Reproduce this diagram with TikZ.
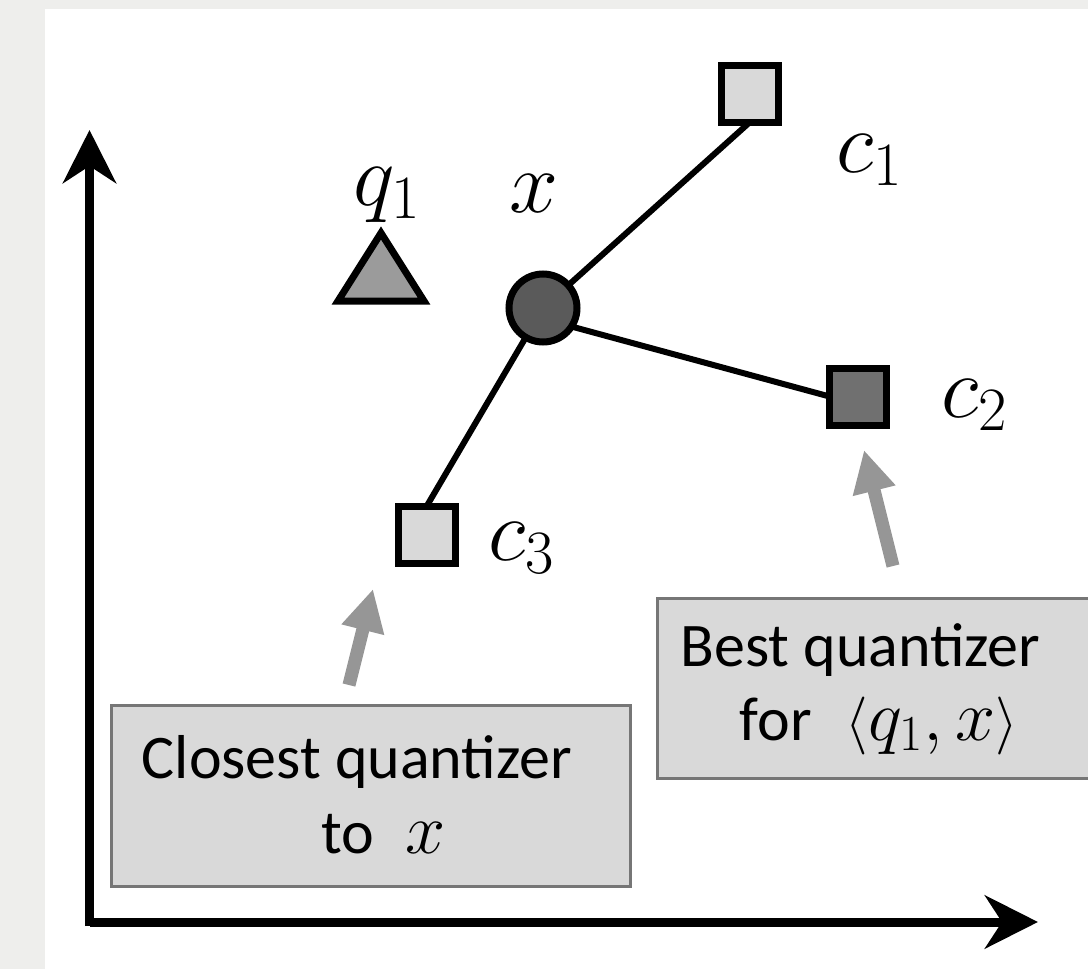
\RequirePackage{fix-cm}
\documentclass[tikz,border=0pt]{standalone}
\usepackage[no-math]{fontspec}
\setmainfont{Carlito}
\usetikzlibrary{arrows.meta}
\definecolor{paper}{RGB}{238,238,236}
\definecolor{lightsq}{RGB}{217,217,217}
\definecolor{darksq}{RGB}{112,112,112}
\definecolor{dotfill}{RGB}{90,90,90}
\definecolor{trifill}{RGB}{155,155,155}
\definecolor{pointer}{RGB}{150,150,150}
\definecolor{boxborder}{RGB}{118,118,118}
\newcommand{\LblSz}{\fontsize{44}{52}\selectfont}
\newcommand{\TxtSz}{\fontsize{31}{37}\selectfont}
\newcommand{\MathSz}{\fontsize{36}{43}\selectfont}
\newcommand{\BrSz}{\fontsize{29}{35}\selectfont}
\begin{document}
\begin{tikzpicture}[x=0.5pt,y=-0.5pt,
  sq/.style={rectangle,draw=black,line width=3.5pt,minimum size=28.5pt,inner sep=0pt,outer sep=0pt},
  dot/.style={circle,draw=black,fill=dotfill,line width=3.5pt,minimum size=34pt,inner sep=0pt,outer sep=0pt},
  link/.style={draw=black,line width=3pt},
  lab/.style={inner sep=0pt,outer sep=0pt,font=\LblSz},
  qbox/.style={rectangle,draw=boxborder,fill=lightsq,line width=1.5pt,inner sep=0pt,outer sep=0pt},
  txtst/.style={inner sep=0pt,outer sep=0pt,font=\TxtSz},
  ptr/.style={draw=pointer,line width=6.5pt,-{Triangle[length=21pt,width=20.5pt]}},
  axis/.style={draw=black,line width=4.5pt,-{Stealth[length=26.5pt,width=26.5pt,inset=8.5pt]}}]
\useasboundingbox (0,0) rectangle (1088,969);
\clip (0,0) rectangle (1088,969);
\fill[paper] (0,0) rectangle (1088,969);
\fill[white] (45,9) rectangle (1088,969);

% axes
\coordinate (ybot) at (89.5,926);
\coordinate (ytip) at (89.5,130);
\coordinate (xleft) at (89.5,922);
\coordinate (xtip) at (1038,922);
\draw[axis] (ybot) -- (ytip);
\draw[axis] (xleft) -- (xtip);

% points
\node[sq,fill=lightsq] (c1) at (750,93.5) {};
\node[sq,fill=darksq] (c2) at (858,396.5) {};
\node[sq,fill=lightsq] (c3) at (426.5,535) {};
\node[dot] (x) at (543,308) {};
\filldraw[fill=trifill,draw=black,line width=3.5pt,line join=miter] (381,233) -- (338,301) -- (424,301) -- cycle;

\draw[link] (x) -- (c1.south);
\draw[link] (x.-33) -- (c2.west);
\draw[link] (x) -- (c3.north);

% labels
\node[lab,anchor=base west] (lc1) at (836,172) {$c_1$};
\node[lab,anchor=base west] (lc2) at (941,417) {$c_2$};
\node[lab,anchor=base west] (lc3) at (488,560) {$c_3$};
\node[lab,anchor=base west] (lx) at (509,212) {$x$};
\node[lab,anchor=base west] (lq) at (353,205) {$q_1$};

% boxes
\node[qbox,minimum width=259.5pt,minimum height=90.5pt] (b1) at (371,795.5) {};
\node[qbox,minimum width=221.25pt,minimum height=90pt] (b2) at (878.75,688.5) {};
\node[txtst,anchor=base] (t1a) at (357,778) {Closest quantizer};
\node[txtst,anchor=base] (t1b) at (383.5,853) {to\hspace{0.5em}{\MathSz$x$}};
\node[txtst,anchor=base] (t2a) at (860.5,666) {Best quantizer};
\node[txtst,anchor=base] (t2b) at (879,740) {for\hspace{0.55em}{\BrSz$\langle$}{\MathSz$q_1,x$}{\BrSz$\rangle$}};

% pointers
\coordinate (p1s) at (349,685);
\coordinate (p1e) at (373,589);
\coordinate (p2s) at (893,566);
\coordinate (p2e) at (864,450);
\draw[ptr] (p1s) -- (p1e);
\draw[ptr] (p2s) -- (p2e);
\end{tikzpicture}
\end{document}
